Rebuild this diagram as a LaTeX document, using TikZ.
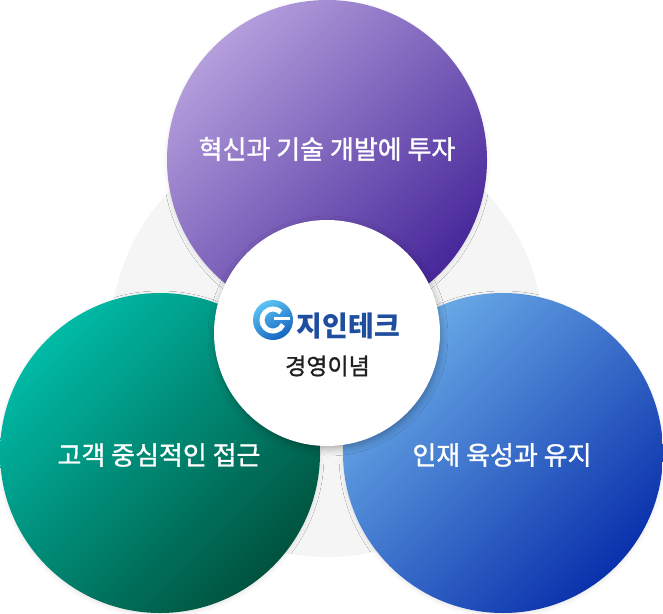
\documentclass[tikz,border=0pt]{standalone}
\usepackage{fontspec}
\setmainfont{Noto Sans CJK KR}
\newfontfamily\labelfont[FakeBold=1.2]{Noto Sans CJK KR}
\usetikzlibrary{shadows.blur}
\definecolor{bggray}{HTML}{F5F5F5}
\definecolor{pLight}{HTML}{B49EDC}
\definecolor{pDark}{HTML}{47279A}
\definecolor{tLight}{HTML}{00BAA6}
\definecolor{tDark}{HTML}{00533E}
\definecolor{bLight}{HTML}{6BADE8}
\definecolor{bDark}{HTML}{0A31AC}
\definecolor{logoBlue}{HTML}{1F4E9E}
\definecolor{gLight}{HTML}{5CC3F3}
\definecolor{gDark}{HTML}{1565C0}
\begin{document}
\begin{tikzpicture}[x=1bp,y=-1bp,
  bigcircle/.style={circle, inner sep=0pt, minimum size=320bp, shading angle=45,
    blur shadow={shadow xshift=0bp, shadow yshift=-2bp, shadow blur radius=4bp, shadow opacity=10}},
  label/.style={text=white, font=\labelfont\fontsize{26bp}{30bp}\selectfont, inner sep=0pt}]
\useasboundingbox (0,0) rectangle (663,614);
\node[circle, inner sep=0pt, minimum size=434bp, fill=bggray] (bg) at (327,340) {};
\node[bigcircle, top color=pLight, bottom color=pDark, shading angle=45] (innov) at (327,160) {};
\node[bigcircle, top color=tLight, bottom color=tDark, shading angle=45] (cust) at (160,453) {};
\node[bigcircle, top color=bLight, bottom color=bDark, shading angle=45] (talent) at (503,453) {};
\node[circle, inner sep=0pt, minimum size=226bp, fill=white,
  blur shadow={shadow xshift=1bp, shadow yshift=-3bp, shadow blur radius=7bp, shadow opacity=30}] (center) at (327,333) {};
\node[label] (innovlabel) at (327,149) {혁신과 기술 개발에 투자};
\node[label] (custlabel) at (159,455) {고객 중심적인 접근};
\node[label] (talentlabel) at (502,455) {인재 육성과 유지};
% logo
\node[circle, inner sep=0pt, minimum size=40bp, top color=gLight, bottom color=gDark, shading angle=30] (glogo) at (273,320) {};
\begin{scope}[shift={(glogo.center)}, yscale=-1]
  \draw[white, line width=5bp] (45:11) arc[start angle=45, end angle=335, radius=11];
  \draw[white, line width=3.5bp] (1,1.5) -- (17,1.5);
\end{scope}
\node[text=logoBlue, font=\fontsize{28bp}{32bp}\selectfont\bfseries, inner sep=0pt] (brand) at (348.5,326.5) {지인테크};
\node[text=black!88, font=\labelfont\fontsize{23bp}{27bp}\selectfont, inner sep=0pt] (motto) at (327.5,366) {경영이념};
\end{tikzpicture}
\end{document}
